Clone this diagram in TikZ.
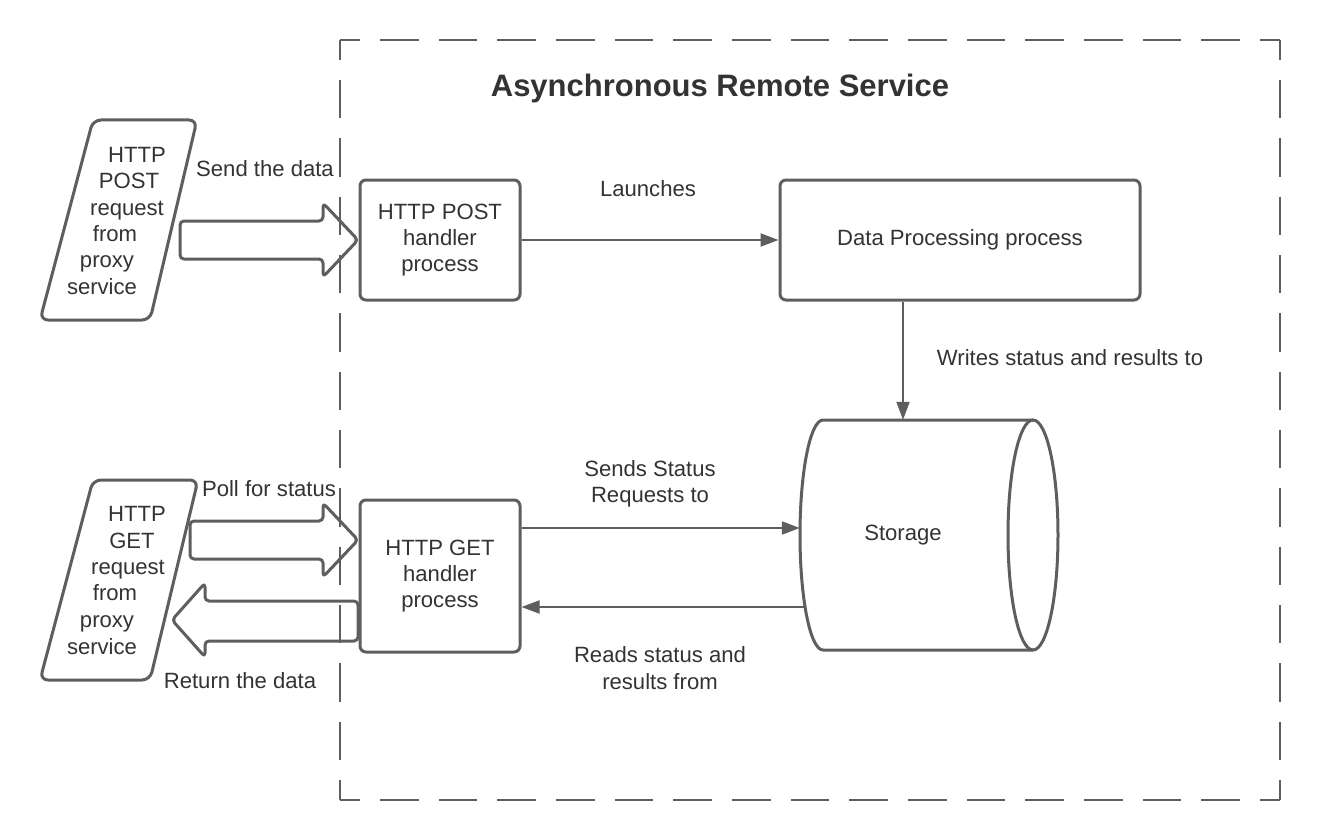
\documentclass[tikz,border=0pt]{standalone}
\usepackage{fontspec}
\setmainfont{Liberation Sans}
\usetikzlibrary{arrows.meta}
\definecolor{ln}{HTML}{5E5E5E}
\definecolor{tx}{HTML}{333333}
\begin{document}
\begin{tikzpicture}[x=1pt,y=-1pt,
  txt/.style={text=tx,font=\fontsize{22.1}{26.4}\selectfont,inner sep=0pt,align=center},
  oneline/.style={txt,text height=16pt,text depth=0pt},
  box/.style={draw=ln,line width=3pt,rounded corners=6pt,fill=white,text=tx,
    font=\fontsize{22.1}{26.4}\selectfont,align=center,inner sep=0pt},
  conn/.style={draw=ln,line width=2pt,-{Triangle[length=18pt,width=13pt]}},
  outline/.style={draw=ln,line width=3pt,rounded corners=8pt,line join=round},
  blockarrow/.style={draw=ln,line width=3pt,rounded corners=4pt,line join=round},
  hframe/.style={draw=ln,line width=2pt,dash pattern=on 38.67pt off 20pt,dash phase=18.67pt},
  vframe/.style={draw=ln,line width=2pt,dash pattern=on 38.33pt off 20pt,dash phase=18.33pt}]
\useasboundingbox[fill=white] (0,0) rectangle (1320,840);

% frame
\coordinate (f1) at (340,40);
\coordinate (f2) at (1280,40);
\coordinate (f3) at (1280,800);
\coordinate (f4) at (340,800);
\draw[hframe] (f1) -- (f2);
\draw[hframe] (f4) -- (f3);
\draw[vframe] (f1) -- (f4);
\draw[vframe] (f2) -- (f3);
\node[oneline,font=\bfseries\fontsize{31}{36}\selectfont,text height=22pt] (title) at (720,86) {Asynchronous Remote Service};

% parallelograms
\draw[outline] (93,120) -- (197,120) -- (150,320) -- (40,320) -- cycle;
\node[oneline] (p1) at (137,155) {HTTP};
\node[oneline] (p2) at (129,181) {POST};
\node[oneline] (p3) at (127,207) {request};
\node[oneline] (p4) at (115,233) {from};
\node[oneline] (p5) at (107,259) {proxy};
\node[oneline] (p6) at (102,286) {service};

\draw[outline] (93,480) -- (198,480) -- (150,680) -- (40,680) -- cycle;
\node[oneline] (g1) at (137,513) {HTTP};
\node[oneline] (g2) at (132,540) {GET};
\node[oneline] (g3) at (128,566) {request};
\node[oneline] (g4) at (115,592) {from};
\node[oneline] (g5) at (107,619) {proxy};
\node[oneline] (g6) at (102,646) {service};

% block arrows
\draw[blockarrow] (180,221) -- (323,221) -- (323,203) -- (358,240) -- (323,277) -- (323,259) -- (180,259) -- cycle;
\draw[blockarrow] (190,521) -- (323,521) -- (323,503) -- (358,540) -- (323,577) -- (323,559) -- (190,559) -- cycle;
\draw[blockarrow] (358,601) -- (205,601) -- (205,583) -- (172,620) -- (205,657) -- (205,641) -- (358,641) -- cycle;
\node[oneline] (l1) at (265,168) {Send the data};
\node[oneline] (l2) at (269,488) {Poll for status};
\node[oneline] (l3) at (240,680) {Return the data};

% boxes
\node[box,minimum width=160pt,minimum height=120pt] (post) at (440,240) {HTTP POST\\handler\\process};
\node[box,minimum width=360pt,minimum height=120pt] (dp) at (960,240) {Data Processing process};
\node[box,minimum width=160pt,minimum height=152pt] (get) at (440,576) {HTTP GET\\handler\\process};

% storage cylinder
\draw[draw=ln,line width=3pt,line join=round] (1033,420) -- (823,420)
  arc[start angle=270,end angle=90,x radius=23,y radius=115] -- (1033,650);
\draw[draw=ln,line width=3pt] (1033,535) ellipse[x radius=25,y radius=115];
\node[oneline,text depth=6pt,minimum width=206pt,minimum height=230pt] (stor) at (903,535) {Storage};

% connectors
\coordinate (sendy) at (0,528);
\coordinate (ready) at (0,607);
\draw[conn] (post.east) -- (dp.west);
\draw[conn] (dp.south -| stor.north) -- (stor.north);
\draw[conn] (get.east |- sendy) -- (stor.west |- sendy);
\draw[conn] ([xshift=5pt]stor.west |- ready) -- (get.east |- ready);

\node[oneline] (la) at (648,188) {Launches};
\node[oneline] (lw) at (1070,357) {Writes status and results to};
\node[txt] (ls) at (650,484) {Sends Status\\Requests to};
\node[txt] (lr) at (660,668) {Reads status and\\results from};
\end{tikzpicture}
\end{document}
